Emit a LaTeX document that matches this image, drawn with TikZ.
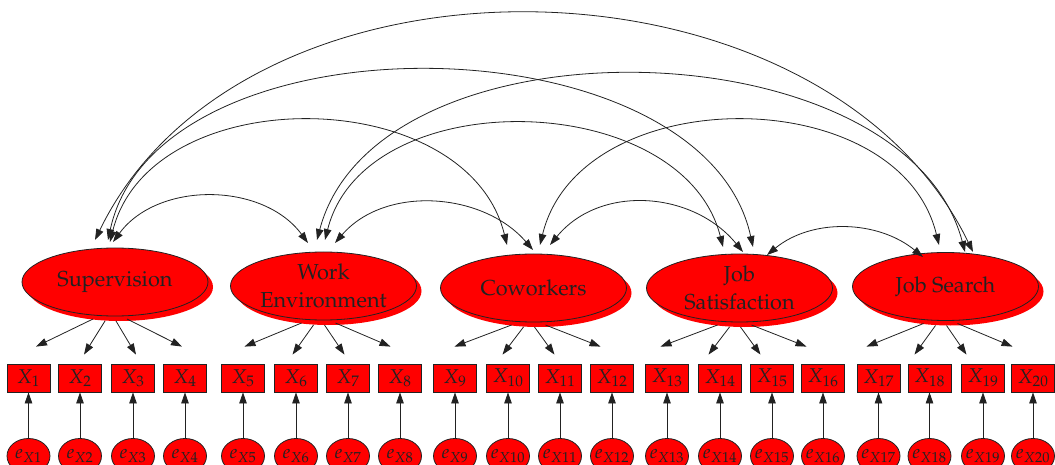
\documentclass[tikz,border=0pt]{standalone}
\usepackage[T1]{fontenc}
\usepackage{mathpazo}
\usetikzlibrary{arrows.meta,shapes.geometric,shadows,calc}
\definecolor{ink}{HTML}{222222}
\begin{document}
\begin{tikzpicture}[x=1pt,y=-1pt,
  latent/.style={ellipse, draw=ink, line width=0.8pt, fill=red, minimum width=186pt, minimum height=68pt, inner sep=0pt, align=center, text=ink, font=\fontsize{21.7}{28}\selectfont, drop shadow={fill=red, opacity=1, shadow xshift=5pt, shadow yshift=-5pt}},
  obs/.style={rectangle, draw=ink, line width=0.8pt, fill=red, minimum width=43pt, minimum height=28pt, inner sep=1pt, text=ink, font=\fontsize{20}{24}\selectfont},
  err/.style={ellipse, draw=ink, line width=0.8pt, fill=red, minimum width=43pt, minimum height=35pt, inner sep=-4pt, text=ink, font=\fontsize{19}{22}\selectfont},
  arr/.style={draw=ink, line width=0.8pt, -{Triangle[length=11pt,width=7.5pt]}},
  dbl/.style={draw=ink, line width=0.8pt, {Triangle[length=11pt,width=7.5pt]}-{Triangle[length=11pt,width=7.5pt]}},
]
\useasboundingbox (0,0) rectangle (1055,465);

% latent factors
\node[latent] (sup) at (115,282) {Supervision};
\node[latent] (work) at (323.5,286) {Work\\Environment};
\node[latent] (cow) at (533.5,288) {Coworkers};
\node[latent] (jsat) at (739.5,288) {Job\\Satisfaction};
\node[latent] (jsearch) at (945.5,286.5) {Job Search};

% indicators and errors
\foreach \xx [count=\i] in {28.5,80,133,185,243,296,348,400,455,508,560,612,667,720,772,823,878.5,929.5,983,1033}{
  \node[obs] (x\i) at (\xx,378) {$X_{\i}$};
  \node[err] (e\i) at (\xx,456) {$e_{X\i}$};
  \draw[arr] (e\i) -- (x\i);
}

% loadings
\foreach \l/\a/\b/\c/\d in {sup/1/2/3/4, work/5/6/7/8, cow/9/10/11/12, jsat/13/14/15/16, jsearch/17/18/19/20}{
  \draw[arr] ($(\l.center)+(-22,37)$) -- ($(x\a.north -| \l.center)+(-79,-17)$);
  \draw[arr] ($(\l.center)+(-10,39)$) -- ($(x\b.north -| \l.center)+(-31,-9)$);
  \draw[arr] ($(\l.center)+(1,39)$) -- ($(x\c.north -| \l.center)+(21,-9)$);
  \draw[arr] ($(\l.center)+(12,37)$) -- ($(x\d.north -| \l.center)+(67,-17)$);
}

% covariances
\draw[dbl] ($(sup.center)+(-2,-40)$) .. controls +(45,-61) and +(-45,-61) .. ($(work.center)+(-15.5,-43)$);
\draw[dbl] ($(work.center)+(11.5,-43)$) .. controls +(50,-58) and +(-50,-58) .. ($(cow.center)+(-0.5,-38)$);
\draw[dbl] ($(cow.center)+(16.5,-43)$) .. controls +(50,-61) and +(-50,-61) .. ($(jsat.center)+(3.5,-36)$);
\draw[dbl] ($(jsat.center)+(27.5,-33)$) .. controls +(45,-37) and +(-45,-37) .. ($(jsearch.center)+(-22.5,-29.5)$);
\draw[dbl] ($(sup.center)+(-5,-40)$) .. controls +(40,-163) and +(-40,-163) .. ($(cow.center)+(-26.5,-43)$);
\draw[dbl] ($(work.center)+(1.5,-46)$) .. controls +(40,-159) and +(-40,-159) .. ($(jsat.center)+(-16.5,-41)$);
\draw[dbl] ($(cow.center)+(6.5,-43)$) .. controls +(40,-165) and +(-40,-165) .. ($(jsearch.center)+(-6.5,-41.5)$);
\draw[dbl] ($(sup.center)+(-7,-42)$) .. controls +(50,-230) and +(-50,-230) .. ($(jsat.center)+(13.5,-41)$);
\draw[dbl] ($(work.center)+(-6.5,-46)$) .. controls +(60,-228) and +(-60,-228) .. ($(jsearch.center)+(19.5,-34.5)$);
\draw[dbl] ($(sup.center)+(-20,-42)$) .. controls +(150,-309) and +(-150,-309) .. ($(jsearch.center)+(27.5,-34.5)$);
\end{tikzpicture}
\end{document}
